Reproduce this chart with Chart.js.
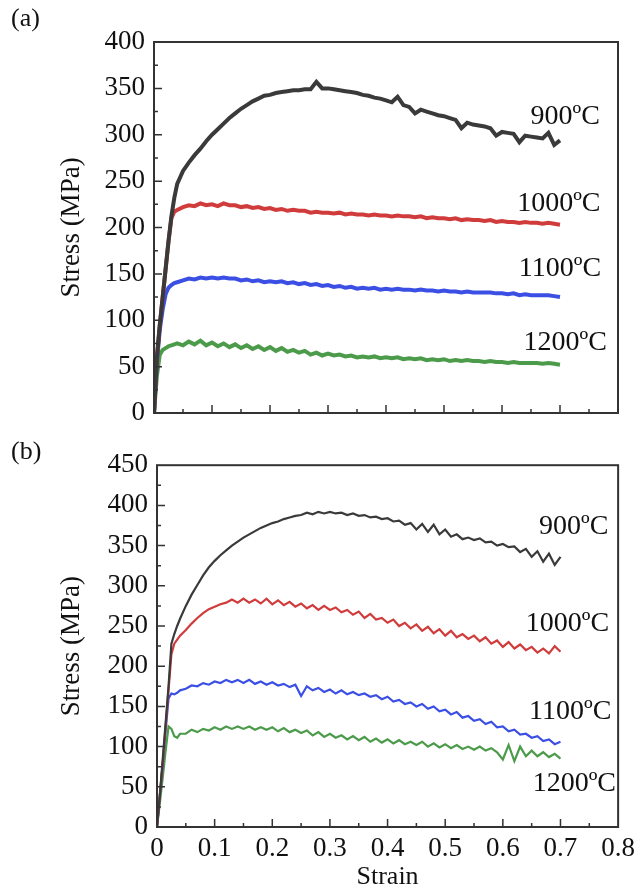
<!DOCTYPE html>
<html lang="en">
<head>
<meta charset="UTF-8">
<title>Stress-strain curves</title>
<script src="https://cdn.jsdelivr.net/npm/chart.js"></script>
<style>
  body { margin: 0; background: #fff; width: 641px; height: 895px; position: relative; overflow: hidden; font-family: "Liberation Serif", serif; }
  canvas { position: absolute; left: 0; }
  #chartA { top: 0; }
  #chartB { top: 440px; }
  .panel { position: absolute; font-size: 26px; line-height: 1.15; color: #111; }
</style>
</head>
<body>
<canvas id="chartA" width="641" height="440"></canvas>
<canvas id="chartB" width="641" height="455"></canvas>
<div class="panel" style="left:11px; top:3px">(a)</div>
<div class="panel" style="left:11px; top:436px">(b)</div>
<script>
// strain grid shared by every curve
const strain = [0, 0.005, 0.01, 0.015, 0.02, 0.025, 0.03, 0.035,
  0.04, 0.05, 0.06, 0.07, 0.08, 0.09, 0.10, 0.11, 0.12, 0.13, 0.14,
  0.15, 0.16, 0.17, 0.18, 0.19, 0.20, 0.21, 0.22, 0.23, 0.24,
  0.25, 0.26, 0.27, 0.28, 0.29, 0.30, 0.31, 0.32, 0.33, 0.34,
  0.35, 0.36, 0.37, 0.38, 0.39, 0.40, 0.41, 0.42, 0.43, 0.44,
  0.45, 0.46, 0.47, 0.48, 0.49, 0.50, 0.51, 0.52, 0.53, 0.54,
  0.55, 0.56, 0.57, 0.58, 0.59, 0.60, 0.61, 0.62, 0.63, 0.64,
  0.65, 0.66, 0.67, 0.68, 0.69, 0.70];

const temps = ['900ºC', '1000ºC', '1100ºC', '1200ºC'];

// panel (a)
const s900a = [0, 60, 95, 125, 155, 185, 212, 232, 247,
  261, 270, 278, 285, 293, 300, 306, 312, 318, 323,
  328, 332, 336, 339, 342, 343, 345, 346, 347, 348,
  348, 349, 349, 357, 350, 350, 349, 348, 347, 346,
  345, 343, 342, 340, 339, 337, 335, 341, 332, 330,
  323, 327, 325, 323, 321, 320, 318, 316, 307, 313,
  311, 310, 309, 307, 299, 303, 302, 301, 292, 299,
  298, 297, 296, 302, 289, 294];
const s1000a = [0, 60, 95, 125, 155, 185, 210, 217, 219,
  222, 224, 223, 226, 224, 225, 223, 226, 224, 224,
  222, 223, 221, 222, 220, 221, 219, 220, 218, 219,
  218, 218, 216, 217, 216, 216, 215, 216, 214, 215,
  214, 214, 213, 214, 213, 213, 212, 213, 212, 212,
  211, 212, 210, 211, 210, 210, 209, 210, 208, 209,
  208, 208, 207, 208, 206, 207, 206, 206, 205, 206,
  205, 205, 204, 205, 204, 203];
const s1100a = [0, 55, 90, 112, 128, 135, 138, 140, 141,
  143, 145, 144, 146, 145, 146, 145, 146, 145, 145,
  143, 144, 142, 143, 141, 142, 141, 142, 140, 141,
  139, 140, 138, 139, 137, 138, 136, 137, 135, 136,
  134, 135, 134, 135, 133, 134, 133, 134, 133, 133,
  132, 133, 132, 132, 131, 132, 131, 131, 130, 131,
  130, 130, 130, 130, 129, 129, 128, 129, 127, 128,
  127, 127, 127, 127, 126, 125];
const s1200a = [0, 40, 63, 68, 70, 72, 73, 74, 75,
  73, 77, 74, 78, 73, 76, 72, 75, 71, 74,
  70, 73, 69, 72, 68, 71, 67, 70, 66, 68,
  65, 67, 63, 65, 62, 64, 62, 63, 61, 62,
  60, 61, 60, 61, 59, 60, 59, 60, 58, 59,
  58, 59, 57, 58, 57, 58, 56, 57, 56, 57,
  56, 56, 55, 56, 55, 55, 54, 55, 54, 54,
  54, 54, 53, 54, 53, 52];

// panel (b)
const s900b = [0, 40, 85, 130, 175, 228, 240, 250, 259,
  275, 289, 301, 313, 323, 331, 338, 344, 350, 355,
  360, 364, 368, 372, 375, 378, 380, 383, 385, 387,
  388, 391, 389, 392, 390, 392, 390, 391, 388, 390,
  387, 388, 385, 386, 383, 384, 380, 381, 376, 378,
  370, 377, 367, 376, 364, 370, 361, 364, 358, 360,
  357, 359, 354, 355, 350, 352, 348, 349, 342, 346,
  336, 343, 330, 340, 326, 336];
const s1000b = [0, 40, 80, 125, 170, 215, 228, 233, 238,
  245, 253, 260, 266, 271, 274, 277, 279, 283, 279,
  284, 279, 283, 278, 284, 277, 282, 276, 280, 274,
  278, 272, 276, 270, 275, 270, 273, 267, 270, 264,
  268, 260, 265, 258, 260, 254, 258, 250, 254, 247,
  252, 244, 249, 241, 246, 238, 244, 236, 240, 234,
  238, 231, 236, 228, 232, 224, 230, 222, 227, 220,
  224, 217, 222, 216, 225, 218];
const s1100b = [0, 40, 78, 120, 160, 166, 165, 167, 170,
  172, 176, 175, 179, 177, 181, 179, 183, 180, 183,
  179, 183, 178, 181, 177, 180, 176, 178, 174, 177,
  163, 175, 170, 173, 168, 171, 166, 170, 165, 168,
  164, 166, 162, 164, 159, 162, 156, 158, 153, 155,
  150, 153, 147, 150, 144, 146, 140, 143, 136, 138,
  132, 134, 128, 131, 124, 125, 119, 121, 115, 116,
  111, 113, 107, 109, 103, 106];
const s1200b = [0, 30, 62, 95, 125, 122, 113, 111, 116,
  116, 121, 118, 122, 120, 124, 121, 125, 122, 125,
  122, 125, 121, 124, 121, 124, 119, 123, 118, 121,
  117, 120, 114, 118, 112, 116, 111, 114, 109, 113,
  108, 112, 106, 110, 105, 109, 104, 108, 103, 106,
  102, 106, 100, 104, 99, 103, 98, 102, 97, 100,
  96, 100, 95, 98, 93, 84, 102, 82, 100, 88,
  95, 88, 93, 87, 91, 85];

const colors = ['#3a3a3a', '#d03b3b', '#3b4fe4', '#4b9b4b'];
const serif = '"Liberation Serif", "Times New Roman", serif';

const toPoints = (ys) => ys.map((v, i) => ({ x: strain[i], y: v }));

// box, inward ticks and temperature labels
const frame = {
  id: 'frame',
  afterDatasetsDraw(chart, args, opts) {
    const { ctx, chartArea: a, scales: { x, y } } = chart;
    ctx.save();
    ctx.strokeStyle = '#333';
    ctx.lineWidth = 2;
    ctx.strokeRect(a.left, a.top, a.right - a.left, a.bottom - a.top);
    ctx.lineWidth = 1.5;
    ctx.beginPath();
    for (let i = 1; i * 25 < y.max; i++) {
      const py = y.getPixelForValue(i * 25);
      ctx.moveTo(a.left, py);
      ctx.lineTo(a.left + (i % 2 === 0 ? 8 : 4), py);
    }
    for (let i = 1; i < 16; i++) {
      const px = x.getPixelForValue(i * 0.05);
      ctx.moveTo(px, a.bottom);
      ctx.lineTo(px, a.bottom - (i % 2 === 0 ? 8 : 4));
    }
    ctx.stroke();

    ctx.fillStyle = '#111';
    ctx.font = '28px ' + serif;
    ctx.textAlign = 'center';
    ctx.textBaseline = 'middle';
    temps.forEach((t, i) => {
      const [sx, sy] = opts.spots[i];
      ctx.fillText(t, x.getPixelForValue(sx), y.getPixelForValue(sy));
    });
    ctx.restore();
  }
};

function makeChart(id, series, o) {
  return new Chart(document.getElementById(id), {
    type: 'line',
    data: {
      datasets: series.map((ys, i) => ({
        data: toPoints(ys),
        borderColor: colors[i],
        borderWidth: o.lineWidth,
        pointRadius: 0,
        tension: 0
      }))
    },
    options: {
      responsive: false,
      animation: false,
      events: [],
      layout: { padding: o.padding },
      plugins: {
        legend: { display: false },
        tooltip: { enabled: false },
        frame: { spots: o.spots }
      },
      scales: {
        x: {
          type: 'linear',
          min: 0,
          max: 0.8,
          grid: { display: false, drawTicks: false },
          border: { display: false },
          ticks: {
            display: o.showX,
            stepSize: 0.1,
            padding: 6,
            color: '#111',
            font: { family: serif, size: 27 }
          },
          title: {
            display: o.showX,
            text: 'Strain',
            color: '#111',
            padding: { top: 0, bottom: 2 },
            font: { family: serif, size: 26 }
          },
          afterFit: (s) => { s.height = o.xHeight; }
        },
        y: {
          min: 0,
          max: o.yMax,
          grid: { display: false, drawTicks: false },
          border: { display: false },
          ticks: {
            stepSize: 50,
            padding: 9,
            color: '#111',
            font: { family: serif, size: 27 }
          },
          title: {
            display: true,
            text: 'Stress (MPa)',
            color: '#111',
            padding: { top: 56, bottom: 0 },
            font: { family: serif, size: 27 }
          },
          afterFit: (s) => { s.width = o.yWidth; }
        }
      }
    },
    plugins: [frame]
  });
}

makeChart('chartA', [s900a, s1000a, s1100a, s1200a], {
  lineWidth: 4,
  padding: { left: 0, top: 42, right: 23, bottom: 27 },
  yMax: 400,
  yWidth: 154,
  xHeight: 0,
  showX: false,
  spots: [[0.709, 319], [0.698, 226], [0.70, 156], [0.709, 76]]
});

makeChart('chartB', [s900b, s1000b, s1100b, s1200b], {
  lineWidth: 2.2,
  padding: { left: 0, top: 15, right: 20, bottom: 0 },
  yMax: 450,
  yWidth: 157,
  xHeight: 68,
  showX: true,
  spots: [[0.723, 374], [0.712, 253], [0.717, 144], [0.724, 54]]
});
</script>
</body>
</html>
